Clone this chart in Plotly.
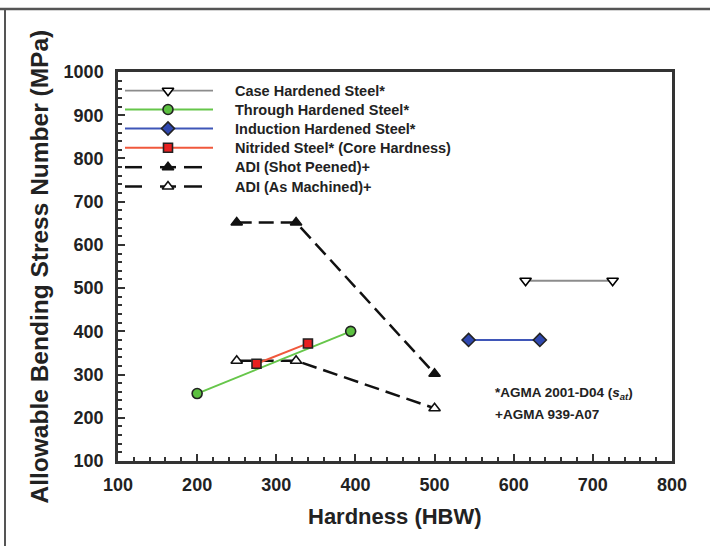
import plotly.graph_objects as go

# ---- data ----
case_x = [615, 725]
case_y = [517, 517]
through_x = [200, 394]
through_y = [256, 400]
induction_x = [543, 633]
induction_y = [380, 380]
nitrided_x = [275, 340]
nitrided_y = [325, 372]
adi_sp_x = [250, 325, 500]
adi_sp_y = [652, 652, 302]
adi_am_x = [250, 325, 500]
adi_am_y = [332, 332, 222]

legend_labels = [
    "Case Hardened Steel*",
    "Through Hardened Steel*",
    "Induction Hardened Steel*",
    "Nitrided Steel* (Core Hardness)",
    "ADI (Shot Peened)+",
    "ADI (As Machined)+",
]
x_ticks = [100, 200, 300, 400, 500, 600, 700, 800]
y_ticks = [100, 200, 300, 400, 500, 600, 700, 800, 900, 1000]

FONT = "Liberation Sans, Arial, sans-serif"
TXT = "#222222"
AX = "#333333"

styles = [
    dict(line=dict(color="#8c8c8c", width=1.8),
         marker=dict(symbol="triangle-down", size=10, color="white", line=dict(color="black", width=1.6))),
    dict(line=dict(color="#66c64a", width=2),
         marker=dict(symbol="circle", size=10, color="#5cc040", line=dict(color="#222", width=1.6))),
    dict(line=dict(color="#3f56b8", width=2),
         marker=dict(symbol="diamond", size=10, color="#2f48b0", line=dict(color="#222", width=1.6))),
    dict(line=dict(color="#f0583c", width=2),
         marker=dict(symbol="square", size=9, color="#e82020", line=dict(color="#222", width=1.6))),
    dict(line=dict(color="#111", width=2.5, dash="15px,7px"),
         marker=dict(symbol="triangle-up", size=10, color="#111", line=dict(color="#111", width=1.5))),
    dict(line=dict(color="#111", width=2.5, dash="15px,7px"),
         marker=dict(symbol="triangle-up", size=10, color="white", line=dict(color="#111", width=1.6))),
]
series = [
    (case_x, case_y), (through_x, through_y), (induction_x, induction_y),
    (nitrided_x, nitrided_y), (adi_sp_x, adi_sp_y), (adi_am_x, adi_am_y),
]

fig = go.Figure()
draw_order = [4, 5, 0, 2, 1, 3]
for i in draw_order:
    xs, ys = series[i]
    fig.add_trace(go.Scatter(x=xs, y=ys, mode="lines+markers", name=legend_labels[i],
                             showlegend=False, **styles[i]))

# ---- manual legend (overlay axis in paper-like units) ----
L = 118; R = 672; T = 72; B = 461
W = R - L; H = B - T
def px(x): return (x - L) / W
def py(y): return (B - y) / H

row_y = [90.7, 109.5, 128.5, 147.8, 167.2, 186.5]
for i, lab in enumerate(legend_labels):
    yy = py(row_y[i])
    st = styles[i]
    if i < 4:
        fig.add_trace(go.Scatter(x=[px(125), px(213)], y=[yy, yy], mode="lines",
                                 line=st["line"], xaxis="x2", yaxis="y2",
                                 showlegend=False, hoverinfo="skip"))
    else:
        for a, b in [(125, 142), (160, 176), (184, 202)]:
            fig.add_trace(go.Scatter(x=[px(a), px(b)], y=[yy, yy], mode="lines",
                                     line=dict(color="#111", width=2.5), xaxis="x2", yaxis="y2",
                                     showlegend=False, hoverinfo="skip"))
    fig.add_trace(go.Scatter(x=[px(168)], y=[yy], mode="markers", marker=st["marker"],
                             xaxis="x2", yaxis="y2", showlegend=False, hoverinfo="skip"))
    fig.add_annotation(x=px(233), y=yy, xref="paper", yref="paper", text="<b>%s</b>" % lab,
                       showarrow=False, xanchor="left", yanchor="middle",
                       font=dict(family=FONT, size=14.5, color=TXT))

fig.add_annotation(x=px(493), y=py(393), xref="paper", yref="paper",
                   text="<b>*AGMA 2001-D04 (<i>s</i><sub><i>at</i></sub>)</b>",
                   showarrow=False, xanchor="left", yanchor="middle",
                   font=dict(family=FONT, size=13.5, color=TXT))
fig.add_annotation(x=px(493), y=py(414), xref="paper", yref="paper",
                   text="<b>+AGMA 939-A07</b>",
                   showarrow=False, xanchor="left", yanchor="middle",
                   font=dict(family=FONT, size=13.5, color=TXT))

# axis titles
fig.add_annotation(x=0.5, y=py(516), xref="paper", yref="paper", text="<b>Hardness (HBW)</b>",
                   showarrow=False, xanchor="center", yanchor="middle",
                   font=dict(family=FONT, size=22, color=TXT))
fig.add_annotation(x=px(39), y=py(266.5), xref="paper", yref="paper",
                   text="<b>Allowable Bending Stress Number (MPa)</b>", textangle=-90,
                   showarrow=False, xanchor="center", yanchor="middle",
                   font=dict(family=FONT, size=24.5, color=TXT))

# outer frame lines
fig.add_shape(type="line", xref="paper", yref="paper", x0=px(0), x1=px(710), y0=py(9), y1=py(9),
              line=dict(color="#555", width=2.5))
fig.add_shape(type="line", xref="paper", yref="paper", x0=px(5), x1=px(5), y0=py(9), y1=py(546),
              line=dict(color="#555", width=2))

axis_common = dict(showline=True, linewidth=2.5, linecolor=AX, mirror=True,
                   ticks="inside", ticklen=7, tickwidth=2, tickcolor=AX,
                   showgrid=False, zeroline=False,
                   tickfont=dict(family=FONT, size=18, color=TXT, weight="bold"),
                   minor=dict(ticks="inside", ticklen=4, tickwidth=1.5, tickcolor=AX, dtick=20, showgrid=False))

fig.update_layout(
    width=710, height=546,
    margin=dict(l=L, r=710 - R, t=T, b=546 - B),
    paper_bgcolor="white", plot_bgcolor="white",
    showlegend=False,
    xaxis=dict(range=[100, 800], tickvals=x_ticks, ticklabelstandoff=6, **axis_common),
    yaxis=dict(range=[100, 1000], tickvals=y_ticks, ticklabelstandoff=8, **axis_common),
    xaxis2=dict(range=[0, 1], overlaying="x", visible=False, anchor="y2"),
    yaxis2=dict(range=[0, 1], overlaying="y", visible=False, anchor="x2"),
)

fig.write_html("out.html", config={"displayModeBar": False},
               post_script="document.body.style.margin='0';document.body.style.overflow='hidden';")
